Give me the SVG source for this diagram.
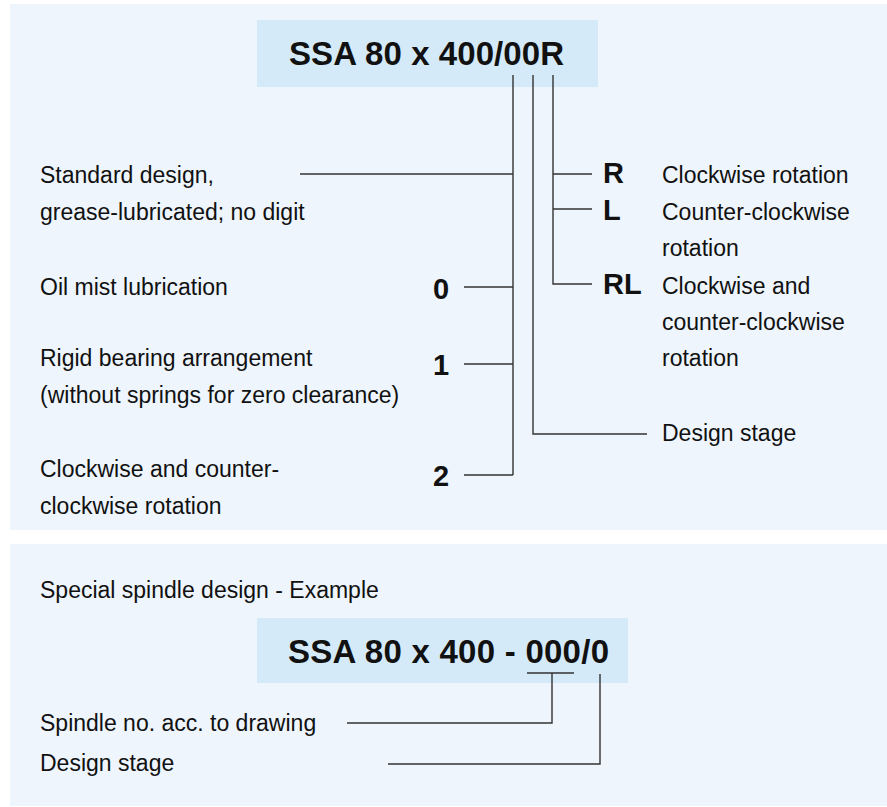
<svg xmlns="http://www.w3.org/2000/svg" width="887" height="807" viewBox="0 0 887 807">
<style>
.panel{fill:#eef5fc}
.hdr{fill:#d4eaf8}
.t{font-family:"Liberation Sans",Arial,sans-serif;font-size:23px;fill:#111}
.b{font-family:"Liberation Sans",Arial,sans-serif;font-weight:bold;fill:#111}
.title{font-size:33px}
.code{font-size:29px}
.ln{fill:none;stroke:#333;stroke-width:1.4}
</style>
<rect width="887" height="807" fill="#ffffff"/>
<rect class="panel" x="10" y="4" width="877" height="526"/>
<rect class="panel" x="10" y="544" width="877" height="262"/>

<g id="title1">
<rect class="hdr" x="257" y="20" width="341" height="67"/>
<text class="b title" x="289" y="65" textLength="275" lengthAdjust="spacing">SSA 80 x 400/00R</text>
</g>

<g id="left-labels">
<text class="t" x="40" y="183">Standard design,</text>
<text class="t" x="40" y="220">grease-lubricated; no digit</text>
<text class="t" x="40" y="295">Oil mist lubrication</text>
<text class="t" x="40" y="366">Rigid bearing arrangement</text>
<text class="t" x="40" y="403">(without springs for zero clearance)</text>
<text class="t" x="40" y="477">Clockwise and counter-</text>
<text class="t" x="40" y="514">clockwise rotation</text>
</g>

<g id="digits">
<text class="b code" x="433" y="299">0</text>
<text class="b code" x="433" y="375">1</text>
<text class="b code" x="433" y="486">2</text>
</g>

<g id="right-labels">
<text class="b code" x="603" y="183">R</text>
<text class="b code" x="603" y="220">L</text>
<text class="b code" x="603" y="294">RL</text>
<text class="t" x="662" y="183">Clockwise rotation</text>
<text class="t" x="662" y="220">Counter-clockwise</text>
<text class="t" x="662" y="256">rotation</text>
<text class="t" x="662" y="294">Clockwise and</text>
<text class="t" x="662" y="330">counter-clockwise</text>
<text class="t" x="662" y="366">rotation</text>
<text class="t" x="662" y="441">Design stage</text>
</g>

<g id="title2">
<text class="t" x="40" y="598">Special spindle design - Example</text>
<rect class="hdr" x="257" y="618" width="371" height="65"/>
<text class="b title" x="288" y="663" textLength="321" lengthAdjust="spacing">SSA 80 x 400 - 000/0</text>
<text class="t" x="40" y="731">Spindle no. acc. to drawing</text>
<text class="t" x="40" y="771">Design stage</text>
</g>

<g id="connectors">
<path class="ln" d="M513 75V475M300 174H513M464 287H513M464 364H513M464 475H513"/>
<path class="ln" d="M533 75V434H647"/>
<path class="ln" d="M553 75V284H592M553 174H592M553 209H592"/>
<path class="ln" d="M527 673H574M552 673V723H347"/>
<path class="ln" d="M600 674V764H388"/>
</g>
</svg>
